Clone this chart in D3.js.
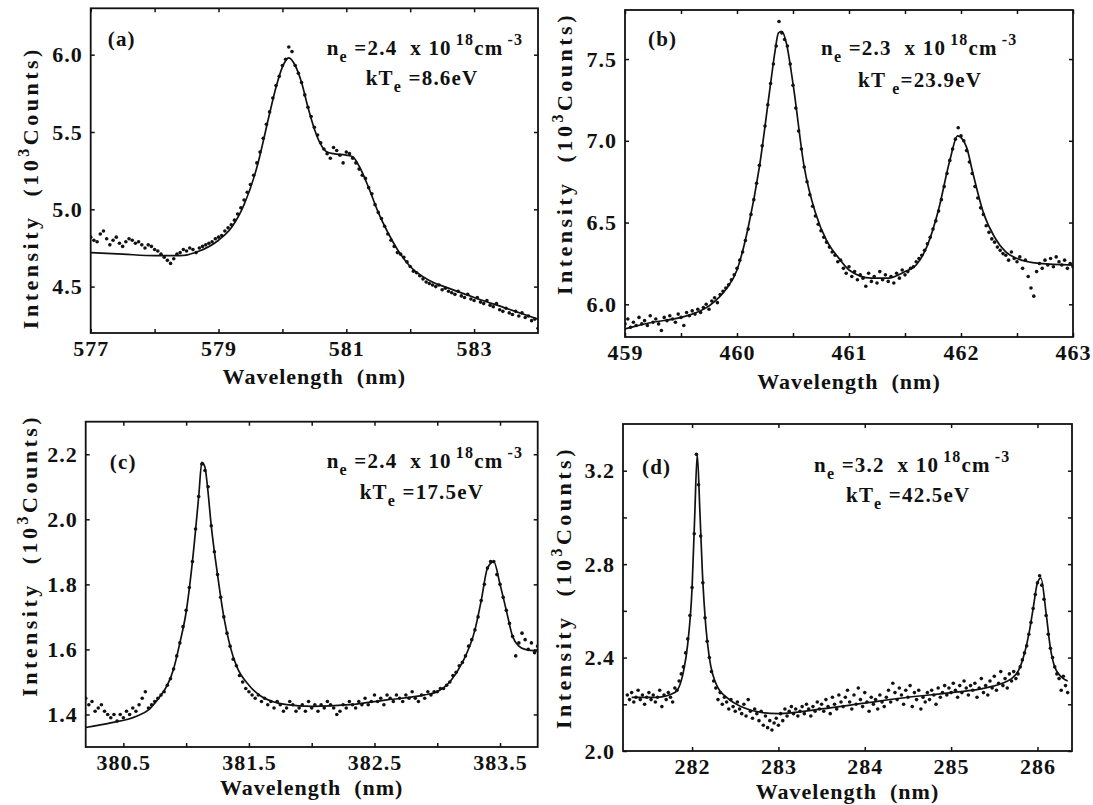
<!DOCTYPE html>
<html>
<head>
<meta charset="utf-8">
<script src="https://cdn.jsdelivr.net/npm/d3@7"></script>
<style>
  body { margin: 0; background: #fff; }
  svg text { font-family: "Liberation Serif", "Times New Roman", serif; font-weight: bold; fill: #111; white-space: pre; }
  .tick text { font-size: 22px; letter-spacing: 1px; }
  .xtitle { font-size: 22px; letter-spacing: 1px; }
  .ytitle { font-size: 22px; letter-spacing: 3.5px; }
  .note { font-size: 21px; letter-spacing: 1.2px; }
</style>
</head>
<body>
<svg id="fig" width="1093" height="805"></svg>
<script>
// ---------------------------------------------------------------------------
// Data
// ---------------------------------------------------------------------------

// (a) measured counts, 577.00 -> 584.00 nm, every 0.05 nm (one row per nm)
const startA = 577, stepA = 0.05
const countsA = [
  4.82, 4.80, 4.79, 4.84, 4.86, 4.81, 4.77, 4.80, 4.82, 4.78, 4.76, 4.79, 4.81, 4.80, 4.78, 4.79, 4.77, 4.75, 4.77, 4.76,
  4.74, 4.73, 4.71, 4.69, 4.67, 4.65, 4.68, 4.71, 4.72, 4.74, 4.73, 4.75, 4.74, 4.72, 4.75, 4.76, 4.77, 4.78, 4.79, 4.81,
  4.82, 4.83, 4.86, 4.88, 4.90, 4.93, 4.97, 5.01, 5.06, 5.11, 5.16, 5.22, 5.30, 5.37, 5.46, 5.55, 5.63, 5.72, 5.80, 5.86,
  5.93, 5.97, 6.05, 6.02, 5.93, 5.88, 5.82, 5.74, 5.66, 5.60, 5.53, 5.48, 5.43, 5.39, 5.36, 5.33, 5.40, 5.38, 5.35, 5.30,
  5.37, 5.36, 5.33, 5.30, 5.26, 5.22, 5.20, 5.14, 5.10, 5.03, 4.98, 4.94, 4.89, 4.84, 4.80, 4.76, 4.72, 4.71, 4.69, 4.66,
  4.63, 4.60, 4.59, 4.57, 4.55, 4.53, 4.52, 4.51, 4.50, 4.51, 4.48, 4.49, 4.47, 4.46, 4.45, 4.47, 4.44, 4.43, 4.45, 4.42,
  4.41, 4.43, 4.40, 4.39, 4.41, 4.38, 4.37, 4.39, 4.35, 4.34, 4.36, 4.33, 4.32, 4.34, 4.31, 4.33, 4.30, 4.31, 4.28, 4.29,
  4.23
]
const fitA = [[577,4.72],[577.5,4.71],[578,4.70],[578.4,4.70],[578.7,4.73],[579,4.80],[579.2,4.88],[579.4,5.03],
  [579.6,5.27],[579.8,5.62],[579.9,5.79],[580,5.92],[580.1,5.98],[580.2,5.93],[580.3,5.82],[580.4,5.66],[580.5,5.52],
  [580.6,5.42],[580.7,5.37],[580.8,5.36],[581,5.35],[581.1,5.34],[581.2,5.28],[581.35,5.14],[581.5,4.98],[581.65,4.85],
  [581.8,4.74],[582,4.63],[582.3,4.54],[582.6,4.49],[583,4.43],[583.5,4.36],[584,4.29]]

// (b) 459.000 -> 463.000 nm, every 0.025 nm (one row per 0.25 nm)
const startB = 459, stepB = 0.025
const countsB = [
  5.88, 5.91, 5.86, 5.89, 5.87, 5.92, 5.88, 5.90, 5.87, 5.93,
  5.89, 5.91, 5.88, 5.84, 5.92, 5.90, 5.93, 5.91, 5.89, 5.94,
  5.92, 5.87, 5.95, 5.93, 5.96, 5.94, 5.97, 5.95, 5.98, 6.00,
  5.97, 6.02, 6.04, 6.01, 6.06, 6.08, 6.10, 6.12, 6.15, 6.18,
  6.22, 6.27, 6.32, 6.39, 6.46, 6.55, 6.64, 6.74, 6.85, 6.97,
  7.09, 7.22, 7.35, 7.47, 7.58, 7.73, 7.66, 7.62, 7.58, 7.47,
  7.34, 7.20, 7.06, 6.95, 6.84, 6.75, 6.67, 6.60, 6.54, 6.49,
  6.45, 6.41, 6.38, 6.35, 6.32, 6.30, 6.26, 6.27, 6.22, 6.19,
  6.23, 6.17, 6.20, 6.15, 6.18, 6.16, 6.11, 6.19, 6.14, 6.17,
  6.13, 6.20, 6.15, 6.18, 6.14, 6.17, 6.13, 6.19, 6.16, 6.21,
  6.18, 6.20, 6.22, 6.23, 6.26, 6.28, 6.30, 6.33, 6.37, 6.41,
  6.46, 6.51, 6.57, 6.64, 6.72, 6.80, 6.88, 6.95, 7.01, 7.08,
  7.03, 7.00, 6.94, 6.87, 6.80, 6.72, 6.65, 6.59, 6.55, 6.48,
  6.44, 6.40, 6.38, 6.35, 6.33, 6.31, 6.30, 6.27, 6.32, 6.28,
  6.26, 6.29, 6.22, 6.27, 6.17, 6.10, 6.05, 6.20, 6.25, 6.22,
  6.27, 6.24, 6.28, 6.23, 6.29, 6.26, 6.24, 6.27, 6.22, 6.25,
  6.23
]
const fitB = [[459,5.85],[459.25,5.89],[459.5,5.92],[459.75,5.99],[459.9,6.09],[460,6.21],[460.1,6.47],[460.2,6.84],
  [460.3,7.35],[460.34,7.55],[460.37,7.66],[460.4,7.67],[460.44,7.60],[460.5,7.35],[460.6,6.84],[460.7,6.56],
  [460.8,6.39],[460.9,6.29],[461,6.21],[461.2,6.16],[461.35,6.16],[461.5,6.20],[461.6,6.24],[461.7,6.36],[461.8,6.58],
  [461.9,6.88],[461.97,7.03],[462.05,6.96],[462.1,6.82],[462.2,6.56],[462.3,6.41],[462.4,6.32],[462.5,6.28],
  [462.7,6.25],[463,6.24]]

// (c) 380.200 -> 383.800 nm, every 0.025 nm (one row per 0.25 nm)
const startC = 380.2, stepC = 0.025
const countsC = [
  1.45, 1.43, 1.44, 1.41, 1.42, 1.43, 1.41, 1.40, 1.39, 1.40,
  1.38, 1.40, 1.39, 1.41, 1.40, 1.42, 1.41, 1.43, 1.45, 1.47,
  1.42, 1.43, 1.44, 1.45, 1.46, 1.47, 1.49, 1.51, 1.54, 1.58,
  1.62, 1.67, 1.72, 1.79, 1.87, 1.97, 2.07, 2.17, 2.15, 2.10,
  1.98, 1.90, 1.83, 1.76, 1.70, 1.65, 1.61, 1.57, 1.55, 1.52,
  1.50, 1.48, 1.47, 1.46, 1.45, 1.46, 1.44, 1.45, 1.43, 1.44,
  1.42, 1.44, 1.43, 1.41, 1.42, 1.44, 1.43, 1.41, 1.42, 1.43,
  1.41, 1.44, 1.42, 1.43, 1.41, 1.43, 1.42, 1.44, 1.43, 1.42,
  1.40, 1.41, 1.43, 1.42, 1.44, 1.43, 1.42, 1.44, 1.43, 1.45,
  1.43, 1.44, 1.46, 1.44, 1.45, 1.43, 1.46, 1.45, 1.44, 1.46,
  1.45, 1.44, 1.46, 1.45, 1.47, 1.45, 1.44, 1.46, 1.45, 1.47,
  1.46, 1.47, 1.47, 1.48, 1.48, 1.49, 1.50, 1.52, 1.53, 1.55,
  1.56, 1.58, 1.61, 1.63, 1.66, 1.70, 1.75, 1.80, 1.85, 1.87,
  1.87, 1.83, 1.80, 1.76, 1.72, 1.68, 1.64, 1.58, 1.62, 1.65,
  1.63, 1.60, 1.62, 1.59, 1.61
]
const fitC = [[380.2,1.36],[380.4,1.374],[380.6,1.394],[380.7,1.414],[380.75,1.435],[380.8,1.46],[380.85,1.49],
  [380.9,1.54],[380.95,1.62],[381,1.715],[381.05,1.87],[381.1,2.07],[381.125,2.175],[381.15,2.16],[381.17,2.10],
  [381.2,1.98],[381.25,1.83],[381.3,1.70],[381.35,1.61],[381.4,1.55],[381.5,1.49],[381.6,1.455],[381.8,1.43],
  [382,1.425],[382.3,1.43],[382.6,1.445],[382.9,1.46],[383,1.47],[383.1,1.50],[383.2,1.56],[383.3,1.66],
  [383.35,1.75],[383.4,1.85],[383.45,1.87],[383.5,1.80],[383.55,1.72],[383.6,1.64],[383.65,1.61],[383.7,1.60],
  [383.8,1.595]]

// (d) 281.250 -> 286.350 nm, every 0.025 nm (one row per 0.5 nm)
const startD = 281.25, stepD = 0.025
const countsD = [
  2.24, 2.22, 2.25, 2.21, 2.23, 2.26, 2.22, 2.24, 2.20, 2.23, 2.25, 2.22, 2.24, 2.21, 2.23, 2.26, 2.19, 2.24, 2.22, 2.25,
  2.23, 2.21, 2.27, 2.26, 2.30, 2.33, 2.36, 2.42, 2.48, 2.58, 2.70, 2.93, 3.27, 3.14, 2.92, 2.72, 2.57, 2.47, 2.40, 2.34,
  2.30, 2.27, 2.22, 2.25, 2.20, 2.23, 2.21, 2.18, 2.22, 2.19, 2.17, 2.21, 2.18, 2.16, 2.20, 2.15, 2.22, 2.17, 2.14, 2.18,
  2.16, 2.13, 2.17, 2.11, 2.15, 2.10, 2.13, 2.09, 2.12, 2.14, 2.11, 2.16, 2.13, 2.18, 2.15, 2.17, 2.19, 2.16, 2.18, 2.15,
  2.17, 2.19, 2.16, 2.20, 2.18, 2.15, 2.19, 2.17, 2.21, 2.18, 2.20, 2.17, 2.22, 2.19, 2.16, 2.23, 2.20, 2.18, 2.24, 2.21,
  2.19, 2.23, 2.26, 2.21, 2.18, 2.24, 2.20, 2.27, 2.22, 2.19, 2.25, 2.21, 2.17, 2.23, 2.20, 2.22, 2.18, 2.24, 2.21, 2.19,
  2.23, 2.26, 2.21, 2.29, 2.25, 2.22, 2.27, 2.24, 2.20, 2.26, 2.23, 2.28, 2.19, 2.25, 2.22, 2.26, 2.18, 2.23, 2.21, 2.25,
  2.22, 2.26, 2.24, 2.20, 2.27, 2.23, 2.25, 2.28, 2.24, 2.27, 2.25, 2.29, 2.26, 2.23, 2.28, 2.25, 2.30, 2.27, 2.24, 2.28,
  2.26, 2.29, 2.23, 2.27, 2.31, 2.25, 2.28, 2.24, 2.30, 2.27, 2.32, 2.26, 2.29, 2.34, 2.28, 2.31, 2.27, 2.33, 2.30, 2.34,
  2.31, 2.33, 2.36, 2.39, 2.42, 2.45, 2.50, 2.55, 2.61, 2.67, 2.72, 2.75, 2.71, 2.65, 2.58, 2.50, 2.44, 2.40, 2.36, 2.33,
  2.31, 2.26, 2.32, 2.28, 2.25
]
const fitD = [[281.3,2.23],[281.6,2.23],[281.8,2.25],[281.9,2.34],[281.95,2.46],[282,2.70],[282.03,3.00],[282.06,3.27],
  [282.09,3.03],[282.12,2.76],[282.16,2.53],[282.2,2.40],[282.3,2.27],[282.4,2.23],[282.6,2.185],[282.8,2.165],
  [283,2.16],[283.5,2.18],[284,2.205],[284.5,2.23],[285,2.25],[285.4,2.27],[285.7,2.31],[285.8,2.36],[285.9,2.50],
  [285.95,2.61],[286,2.72],[286.04,2.74],[286.1,2.59],[286.15,2.44],[286.2,2.36],[286.3,2.31],[286.35,2.30]]

// axis ticks (all) and the ones that carry a label
const xTicksA = [578, 579, 580, 581, 582, 583],              xLabelsA = [577, 579, 581, 583]
const yTicksA = [4.5, 5.0, 5.5, 6.0],                         yLabelsA = [4.5, 5.0, 5.5, 6.0]
const xTicksB = [459.5, 460, 460.5, 461, 461.5, 462, 462.5],  xLabelsB = [459, 460, 461, 462, 463]
const yTicksB = [6.0, 6.5, 7.0, 7.5],                         yLabelsB = [6.0, 6.5, 7.0, 7.5]
const xTicksC = [380.5, 381, 381.5, 382, 382.5, 383, 383.5],  xLabelsC = [380.5, 381.5, 382.5, 383.5]
const yTicksC = [1.4, 1.6, 1.8, 2.0, 2.2],                    yLabelsC = [1.4, 1.6, 1.8, 2.0, 2.2]
const xTicksD = [282, 283, 284, 285, 286],                    xLabelsD = [282, 283, 284, 285, 286]
const yTicksD = [2.2, 2.4, 2.6, 2.8, 3.0, 3.2],               yLabelsD = [2.0, 2.4, 2.8, 3.2]

// plasma parameters written in each panel: [text, "sub" | "sup" | ""]
const densityA = [["n",""],["e","sub"],[" =2.4  x 10",""],["18","sup"],["cm",""],["-3","sup"]]
const tempA    = [["kT",""],["e","sub"],[" =8.6eV",""]]
const densityB = [["n",""],["e","sub"],[" =2.3  x 10",""],["18","sup"],["cm",""],["-3","sup"]]
const tempB    = [["kT ",""],["e","sub"],["=23.9eV",""]]
const densityC = [["n",""],["e","sub"],[" =2.4  x 10",""],["18","sup"],["cm",""],["-3","sup"]]
const tempC    = [["kT",""],["e","sub"],[" =17.5eV",""]]
const densityD = [["n",""],["e","sub"],[" =3.2  x 10",""],["18","sup"],["cm",""],["-3","sup"]]
const tempD    = [["kT",""],["e","sub"],[" =42.5eV",""]]

// ---------------------------------------------------------------------------
// Layout (pixel frames of the four panels)
// ---------------------------------------------------------------------------
const panels = [
  { tag: "(a)", start: startA, step: stepA, counts: countsA, fit: fitA,
    xDom: [577, 584], yDom: [4.2, 6.3], xTicks: xTicksA, xLabels: xLabelsA, yTicks: yTicksA, yLabels: yLabelsA,
    fx: d3.format("d"), fy: d3.format(".1f"), density: densityA, temp: tempA,
    box: { l: 90.7, t: 8.3, r: 538, b: 333 },
    tagAt: [17, 38], densAt: [236, 47], tempAt: [275, 77], yTitle: [-53, 17], xTitle: 51 },
  { tag: "(b)", start: startB, step: stepB, counts: countsB, fit: fitB,
    xDom: [459, 463], yDom: [5.8, 7.8], xTicks: xTicksB, xLabels: xLabelsB, yTicks: yTicksB, yLabels: yLabelsB,
    fx: d3.format("d"), fy: d3.format(".1f"), density: densityB, temp: tempB,
    box: { l: 625, t: 10, r: 1073, b: 337 },
    tagAt: [23, 36], densAt: [196, 45], tempAt: [233, 77], yTitle: [-53, -20], xTitle: 52 },
  { tag: "(c)", start: startC, step: stepC, counts: countsC, fit: fitC,
    xDom: [380.2, 383.8], yDom: [1.3, 2.3], xTicks: xTicksC, xLabels: xLabelsC, yTicks: yTicksC, yLabels: yLabelsC,
    fx: d3.format(".1f"), fy: d3.format(".1f"), density: densityC, temp: tempC,
    box: { l: 85.7, t: 421.7, r: 537.7, b: 747 },
    tagAt: [24, 47], densAt: [241, 46], tempAt: [274, 77], yTitle: [-49, -29], xTitle: 48 },
  { tag: "(d)", start: startD, step: stepD, counts: countsD, fit: fitD,
    xDom: [281.2, 286.4], yDom: [2.0, 3.4], xTicks: xTicksD, xLabels: xLabelsD, yTicks: yTicksD, yLabels: yLabelsD,
    fx: d3.format("d"), fy: d3.format(".1f"), density: densityD, temp: tempD,
    box: { l: 623, t: 424, r: 1072, b: 751 },
    tagAt: [19, 50], densAt: [191, 48], tempAt: [223, 78], yTitle: [-52, 0], xTitle: 48 },
]

// ---------------------------------------------------------------------------
// Helpers
// ---------------------------------------------------------------------------
const has = (list, v) => list.some(l => Math.abs(l - v) < 1e-6)

// text with sub/superscripts built from tspans
function richText(sel, x, y, parts, cls) {
  const t = sel.append("text").attr("class", cls).attr("x", x).attr("y", y)
  let shift = 0
  parts.forEach(([s, kind]) => {
    const target = kind === "sup" ? -10 : kind === "sub" ? 7 : 0
    t.append("tspan")
      .attr("dy", target - shift)
      .attr("dx", kind === "sup" ? 4 : 0)
      .style("font-size", kind ? "16px" : null)
      .text(s)
    shift = target
  })
  return t
}

// =================================================================================================
// Main
// =================================================================================================
const svg = d3.select("#fig")
const defs = svg.append("defs")

panels.forEach((p, k) => {
  const f = p.box
  const x = d3.scaleLinear().domain(p.xDom).range([f.l, f.r])
  const y = d3.scaleLinear().domain(p.yDom).range([f.b, f.t])
  const g = svg.append("g").attr("class", "panel").attr("color", "#111")

  defs.append("clipPath").attr("id", "clip" + k)
    .append("rect")
    .attr("x", f.l).attr("y", f.t)
    .attr("width", f.r - f.l).attr("height", f.b - f.t)

  const plot = g.append("g").attr("clip-path", `url(#clip${k})`)

  // fitted profile
  plot.append("path")
    .datum(p.fit)
    .attr("d", d3.line().x(d => x(d[0])).y(d => y(d[1])).curve(d3.curveMonotoneX))
    .attr("fill", "none")
    .attr("stroke", "#111")
    .attr("stroke-width", 1.7)

  // measured points
  const pts = p.counts.map((v, i) => [p.start + i * p.step, v])
  plot.selectAll("circle")
    .data(pts)
    .join("circle")
      .attr("cx", d => x(d[0]))
      .attr("cy", d => y(d[1]))
      .attr("r", 1.8)
      .attr("fill", "#111")

  // axes, ticks pointing inward on all four sides
  const xTickVals = Array.from(new Set(p.xTicks.concat(p.xLabels))).sort((a, b) => a - b)
  const yTickVals = Array.from(new Set(p.yTicks.concat(p.yLabels))).sort((a, b) => a - b)
  const clean = s => s.call(a => a.select(".domain").remove())
    .attr("font-size", null).attr("font-family", null)

  g.append("g").attr("transform", `translate(0,${f.b})`)
    .call(d3.axisBottom(x).tickValues(xTickVals).tickSizeInner(-4).tickSizeOuter(0).tickPadding(7)
      .tickFormat(v => has(p.xLabels, v) ? p.fx(v) : ""))
    .call(clean)
  g.append("g").attr("transform", `translate(0,${f.t})`)
    .call(d3.axisTop(x).tickValues(xTickVals).tickSizeInner(-4).tickSizeOuter(0).tickFormat(""))
    .call(clean)
  g.append("g").attr("transform", `translate(${f.l},0)`)
    .call(d3.axisLeft(y).tickValues(yTickVals).tickSizeInner(-4).tickSizeOuter(0).tickPadding(8)
      .tickFormat(v => has(p.yLabels, v) ? p.fy(v) : ""))
    .call(clean)
  g.append("g").attr("transform", `translate(${f.r},0)`)
    .call(d3.axisRight(y).tickValues(yTickVals).tickSizeInner(-4).tickSizeOuter(0).tickFormat(""))
    .call(clean)
  g.selectAll(".tick line").attr("stroke-width", 1.5)

  // frame
  g.append("rect")
    .attr("x", f.l).attr("y", f.t)
    .attr("width", f.r - f.l).attr("height", f.b - f.t)
    .attr("fill", "none").attr("stroke", "#111").attr("stroke-width", 1.8)

  // axis titles
  g.append("text").attr("class", "xtitle")
    .attr("x", (f.l + f.r) / 2).attr("y", f.b + p.xTitle)
    .attr("text-anchor", "middle")
    .text("Wavelength  (nm)")

  const yt = g.append("text").attr("class", "ytitle")
    .attr("text-anchor", "middle")
    .attr("transform", `translate(${f.l + p.yTitle[0]},${(f.t + f.b) / 2 + p.yTitle[1]}) rotate(-90)`)
  yt.append("tspan").text("Intensity  (10")
  yt.append("tspan").attr("dy", -9).style("font-size", "16px").text("3")
  yt.append("tspan").attr("dy", 9).text("Counts)")

  // panel tag and plasma parameters
  g.append("text").attr("class", "note")
    .attr("x", f.l + p.tagAt[0]).attr("y", f.t + p.tagAt[1])
    .text(p.tag)
  richText(g, f.l + p.densAt[0], f.t + p.densAt[1], p.density, "note")
  richText(g, f.l + p.tempAt[0], f.t + p.tempAt[1], p.temp, "note")
})
</script>
</body>
</html>
